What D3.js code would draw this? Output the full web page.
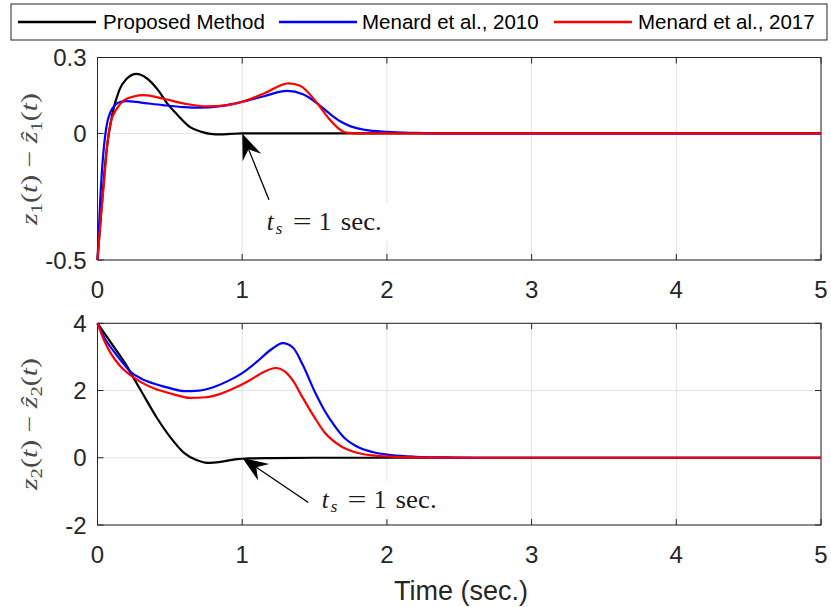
<!DOCTYPE html>
<html><head><meta charset="utf-8">
<script src="https://cdn.jsdelivr.net/npm/d3@7"></script>
<style>body{margin:0;background:#fff}</style>
</head><body><svg id="c" width="831" height="607"></svg>
<script>
// ---------------- data ----------------
const xTicks = [0, 1, 2, 3, 4, 5];
const xTickLabels = ["0", "1", "2", "3", "4", "5"];
const yTicksTop = [-0.5, 0, 0.3];
const yTickLabelsTop = ["-0.5", "0", "0.3"];
const yTicksBot = [-2, 0, 2, 4];
const yTickLabelsBot = ["-2", "0", "2", "4"];

const seriesNames = ["Proposed Method", "Menard et al., 2010", "Menard et al., 2017"];
const seriesColors = ["#000000", "#0000ff", "#ff0000"];

// top panel: z1 - z1hat
const tBlackTop = [0, 0.03, 0.06, 0.1, 0.15, 0.2, 0.27, 0.34, 0.42, 0.48, 0.55, 0.64, 0.72, 0.78, 0.85, 0.92, 1.0, 1.5, 2, 3, 4, 5];
const vBlackTop = [-0.5, -0.28, -0.08, 0.07, 0.17, 0.215, 0.235, 0.218, 0.17, 0.12, 0.075, 0.025, 0.006, -0.002, -0.004, -0.002, 0, 0, 0, 0, 0, 0];
const tBlueTop = [0, 0.02, 0.04, 0.055, 0.07, 0.09, 0.12, 0.16, 0.2, 0.3, 0.45, 0.6, 0.7, 0.85, 1.0, 1.15, 1.31, 1.42, 1.52, 1.6, 1.68, 1.75, 1.85, 2.0, 2.2, 2.4, 3, 4, 5];
const vBlueTop = [-0.5, -0.25, -0.08, 0, 0.05, 0.085, 0.112, 0.125, 0.128, 0.122, 0.112, 0.104, 0.102, 0.108, 0.125, 0.147, 0.168, 0.155, 0.118, 0.08, 0.047, 0.028, 0.014, 0.006, 0.002, 0, 0, 0, 0];
const tRedTop = [0, 0.02, 0.044, 0.07, 0.09, 0.136, 0.18, 0.25, 0.32, 0.45, 0.6, 0.75, 0.9, 1.0, 1.15, 1.32, 1.4, 1.52, 1.6, 1.66, 1.72, 1.8, 2, 3, 4, 5];
const vRedTop = [-0.5, -0.35, -0.2, -0.03, 0.04, 0.10, 0.13, 0.146, 0.151, 0.138, 0.118, 0.107, 0.112, 0.125, 0.158, 0.198, 0.188, 0.118, 0.058, 0.022, 0.003, 0, 0, 0, 0, 0];

// bottom panel: z2 - z2hat
const tBlackBot = [0, 0.1, 0.2, 0.25, 0.3, 0.41, 0.5, 0.6, 0.68, 0.76, 0.85, 0.95, 1.05, 1.2, 1.5, 2, 3, 4, 5];
const vBlackBot = [4, 3.38, 2.75, 2.37, 2.0, 1.19, 0.63, 0.14, -0.06, -0.15, -0.12, -0.05, -0.02, -0.01, 0, 0, 0, 0, 0];
const tBlueBot = [0, 0.05, 0.1, 0.17, 0.23, 0.3, 0.41, 0.5, 0.6, 0.7, 0.8, 0.9, 1.0, 1.1, 1.2, 1.28, 1.35, 1.42, 1.5, 1.57, 1.63, 1.7, 1.8, 1.9, 2.03, 2.2, 2.4, 2.6, 3, 4, 5];
const vBlueBot = [4, 3.55, 3.24, 2.85, 2.55, 2.36, 2.18, 2.07, 1.98, 2.0, 2.1, 2.28, 2.52, 2.85, 3.22, 3.41, 3.28, 2.75, 1.98, 1.4, 1.0, 0.62, 0.32, 0.17, 0.08, 0.03, 0.01, 0, 0, 0, 0];
const tRedBot = [0, 0.05, 0.09, 0.15, 0.23, 0.3, 0.41, 0.5, 0.64, 0.75, 0.85, 0.95, 1.05, 1.15, 1.23, 1.3, 1.35, 1.41, 1.5, 1.57, 1.68, 1.8, 1.9, 2.0, 2.2, 2.5, 3, 4, 5];
const vRedBot = [4, 3.45, 3.12, 2.76, 2.45, 2.25, 2.03, 1.92, 1.78, 1.8, 1.9, 2.08, 2.3, 2.55, 2.67, 2.55, 2.3, 1.85, 1.2, 0.75, 0.35, 0.14, 0.07, 0.04, 0.01, 0, 0, 0, 0];

// annotations (data coordinates)
const arrowTipTop = [1, 0], arrowTailTop = [1.185, -0.262], labelPosTop = [1.17, -0.382];
const arrowTipBot = [1, 0], arrowTailBot = [1.457, -1.33], labelPosBot = [1.549, -1.5];

// ---------------- drawing ----------------
const svg = d3.select("#c");
svg.append("rect").attr("width", 831).attr("height", 607).attr("fill", "#fff");

const x = d3.scaleLinear().domain([0, 5]).range([97.5, 821]);
const yTop = d3.scaleLinear().domain([-0.5, 0.3]).range([260, 57.5]);
const yBot = d3.scaleLinear().domain([-2, 4]).range([525, 323.3]);

const axisColor = "#262626";
const gridColor = "#e3e3e3";
const tickFont = "'Liberation Sans', Arial, Helvetica, sans-serif";
const serif = "'Liberation Serif', 'Times New Roman', serif";

function panel(y, yTicks, yLabels, series) {
  const g = svg.append("g");
  const [x0, x1] = x.range();
  const [yb, yt] = y.range();
  xTicks.forEach(t => {
    g.append("line").attr("x1", x(t)).attr("x2", x(t)).attr("y1", yt).attr("y2", yb)
      .attr("stroke", gridColor).attr("stroke-width", 1);
  });
  yTicks.forEach(v => {
    g.append("line").attr("x1", x0).attr("x2", x1).attr("y1", y(v)).attr("y2", y(v))
      .attr("stroke", gridColor).attr("stroke-width", 1);
  });
  g.append("rect").attr("x", x0).attr("y", yt).attr("width", x1 - x0).attr("height", yb - yt)
    .attr("fill", "none").attr("stroke", axisColor).attr("stroke-width", 1);
  const tl = 6;
  xTicks.forEach(t => {
    g.append("line").attr("x1", x(t)).attr("x2", x(t)).attr("y1", yb).attr("y2", yb - tl).attr("stroke", axisColor);
    g.append("line").attr("x1", x(t)).attr("x2", x(t)).attr("y1", yt).attr("y2", yt + tl).attr("stroke", axisColor);
  });
  yTicks.forEach(v => {
    g.append("line").attr("x1", x0).attr("x2", x0 + tl).attr("y1", y(v)).attr("y2", y(v)).attr("stroke", axisColor);
    g.append("line").attr("x1", x1).attr("x2", x1 - tl).attr("y1", y(v)).attr("y2", y(v)).attr("stroke", axisColor);
  });
  xTicks.forEach((t, i) => {
    g.append("text").attr("x", x(t)).attr("y", yb + 38).attr("text-anchor", "middle")
      .attr("font-family", tickFont).attr("font-size", 24).attr("fill", axisColor).text(xTickLabels[i]);
  });
  yTicks.forEach((v, i) => {
    g.append("text").attr("x", x0 - 11).attr("y", y(v)).attr("dy", "0.36em").attr("text-anchor", "end")
      .attr("font-family", tickFont).attr("font-size", 24).attr("fill", axisColor).text(yLabels[i]);
  });
  const line = d3.line().x(d => x(d[0])).y(d => y(d[1])).curve(d3.curveMonotoneX);
  series.forEach((s, i) => {
    const pts = s.t.map((t, j) => [t, s.v[j]]);
    g.append("path").attr("d", line(pts)).attr("fill", "none")
      .attr("stroke", seriesColors[i]).attr("stroke-width", 2.2).attr("stroke-linejoin", "round");
  });
  return g;
}

panel(yTop, yTicksTop, yTickLabelsTop, [
  {t: tBlackTop, v: vBlackTop}, {t: tBlueTop, v: vBlueTop}, {t: tRedTop, v: vRedTop}]);
panel(yBot, yTicksBot, yTickLabelsBot, [
  {t: tBlackBot, v: vBlackBot}, {t: tBlueBot, v: vBlueBot}, {t: tRedBot, v: vRedBot}]);

// y labels
function yLabel(cx, cy, idx) {
  const t = svg.append("text").attr("transform", `translate(${cx},${cy}) rotate(-90)`)
    .attr("text-anchor", "middle").attr("font-family", serif).attr("font-size", 23)
    .attr("fill", "#4a4a4a").attr("textLength", 132).attr("lengthAdjust", "spacingAndGlyphs");
  t.append("tspan").attr("font-style", "italic").text("z");
  t.append("tspan").attr("font-size", 16).attr("dy", 5).text(idx);
  t.append("tspan").attr("dy", -5).text("(");
  t.append("tspan").attr("font-style", "italic").text("t");
  t.append("tspan").text(")  \u2212  ");
  t.append("tspan").attr("font-style", "italic").text("\u1E91");
  t.append("tspan").attr("font-size", 16).attr("dy", 5).text(idx);
  t.append("tspan").attr("dy", -5).text("(");
  t.append("tspan").attr("font-style", "italic").text("t");
  t.append("tspan").text(")");
}
yLabel(37, 159, "1");
yLabel(37, 424, "2");

// x label
svg.append("text").attr("x", 461).attr("y", 600).attr("text-anchor", "middle")
  .attr("font-family", tickFont).attr("font-size", 27).attr("fill", axisColor).text("Time (sec.)");

// annotations
function annotate(y, tip, tail, pos) {
  const g = svg.append("g");
  const px = x(tip[0]), py = y(tip[1]);
  const qx = x(tail[0]), qy = y(tail[1]);
  const dx = px - qx, dy = py - qy, len = Math.hypot(dx, dy);
  const ux = dx / len, uy = dy / len, nx = -uy, ny = ux;
  const L = 26, Wd = 10, back = 17;
  const bx = px - ux * L, by = py - uy * L;
  const kx = px - ux * back, ky = py - uy * back;
  g.append("line").attr("x1", qx).attr("y1", qy).attr("x2", kx).attr("y2", ky)
    .attr("stroke", "#000").attr("stroke-width", 1.3);
  g.append("path").attr("d", `M${px},${py} L${bx + nx * Wd},${by + ny * Wd} L${kx},${ky} L${bx - nx * Wd},${by - ny * Wd} Z`)
    .attr("fill", "#000");
  const lx = x(pos[0]), ly = y(pos[1]);
  const bg = g.append("rect").attr("fill", "#fff");
  const tg = g.append("g").attr("font-family", serif).attr("font-size", 25).attr("fill", "#1a1a1a");
  tg.append("text").attr("x", lx).attr("y", ly).attr("font-style", "italic").text("t");
  tg.append("text").attr("x", lx + 9).attr("y", ly + 4).attr("font-style", "italic").attr("font-size", 17).text("s");
  tg.append("text").attr("x", lx + 26).attr("y", ly).attr("textLength", 19).attr("lengthAdjust", "spacingAndGlyphs").text("=");
  tg.append("text").attr("x", lx + 52).attr("y", ly).text("1");
  tg.append("text").attr("x", lx + 74).attr("y", ly).attr("textLength", 41).attr("lengthAdjust", "spacingAndGlyphs").text("sec.");
  const bb = tg.node().getBBox();
  bg.attr("x", bb.x - 4).attr("y", bb.y - 5).attr("width", bb.width + 10).attr("height", bb.height + 8);
}
annotate(yTop, arrowTipTop, arrowTailTop, labelPosTop);
annotate(yBot, arrowTipBot, arrowTailBot, labelPosBot);

// legend
const leg = svg.append("g");
leg.append("rect").attr("x", 11).attr("y", 4).attr("width", 816).attr("height", 36)
  .attr("fill", "#fff").attr("stroke", axisColor).attr("stroke-width", 1);
const legLineX = [18, 279, 554];
const legTextX = [103, 362, 638];
seriesNames.forEach((n, i) => {
  leg.append("line").attr("x1", legLineX[i]).attr("x2", legLineX[i] + 78).attr("y1", 22).attr("y2", 22)
    .attr("stroke", seriesColors[i]).attr("stroke-width", 2.3);
  leg.append("text").attr("x", legTextX[i]).attr("y", 22).attr("dy", "0.36em")
    .attr("font-family", tickFont).attr("font-size", 20.5).attr("fill", "#000").text(n);
});
</script>
</body></html>
